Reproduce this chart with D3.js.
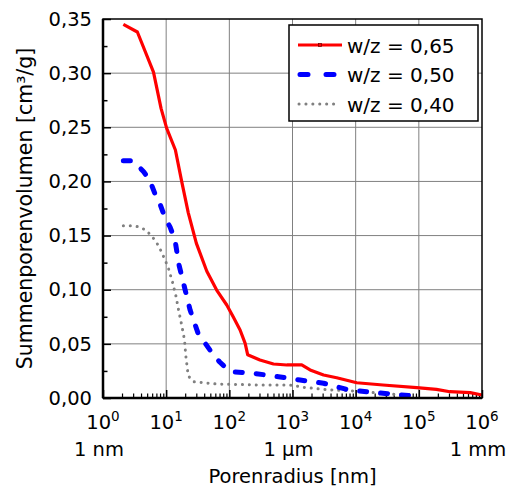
<!DOCTYPE html>
<html>
<head>
<meta charset="utf-8">
<script src="https://cdn.jsdelivr.net/npm/d3@7"></script>
<style>
  html, body { margin: 0; padding: 0; background: #fff; }
  svg text { font-family: "DejaVu Sans", sans-serif; fill: #000; }
</style>
</head>
<body>
<svg id="chart" width="511" height="488"></svg>
<script>
// Cumulative pore volume (cm³/g) vs. pore radius (nm) for three w/c ratios
const radius065 = [2.1, 3.5, 6.3, 8.3, 10.2, 14, 17.6, 22.4, 30, 44, 63, 91, 115, 148, 178, 195, 305, 500, 815, 1400, 1900, 3100, 5000, 10400, 27000, 92500, 190000, 310000, 650000, 1000000];
const volume065 = [0.345, 0.338, 0.301, 0.2675, 0.249, 0.229, 0.200, 0.171, 0.143, 0.117, 0.0997, 0.0859, 0.075, 0.0628, 0.0505, 0.040, 0.0351, 0.0314, 0.0305, 0.0305, 0.0259, 0.0212, 0.0187, 0.0141, 0.012, 0.0095, 0.008, 0.0058, 0.0049, 0.0028];

const radius050 = [2.1, 3.0, 4.4, 5.5, 6.6, 7.9, 9.5, 11.5, 13.8, 15.8, 20, 24, 32, 59, 71, 102, 240, 600, 1320, 3100, 7200, 17000, 37000, 81000, 100000];
const volume050 = [0.219, 0.219, 0.209, 0.201, 0.189, 0.180, 0.167, 0.158, 0.146, 0.124, 0.0997, 0.081, 0.0597, 0.038, 0.033, 0.0245, 0.0228, 0.0197, 0.0166, 0.0136, 0.008, 0.0053, 0.0037, 0.0018, 0.0012];

const radius040 = [2.1, 2.8, 3.8, 4.9, 6.2, 7.5, 8.5, 9.5, 10.7, 12.6, 14.3, 15.8, 17.6, 19.5, 20.4, 21.6, 22.4, 27.5, 34, 63, 305, 910, 1480, 3900, 8100, 27500, 50000, 81000];
const volume040 = [0.159, 0.159, 0.158, 0.1545, 0.148, 0.141, 0.1345, 0.128, 0.121, 0.107, 0.094, 0.0806, 0.0674, 0.0536, 0.0397, 0.0274, 0.0203, 0.015, 0.0145, 0.0129, 0.012, 0.012, 0.0099, 0.0074, 0.0067, 0.0043, 0.0028, 0.0014];

const seriesNames = ["w/z = 0,65", "w/z = 0,50", "w/z = 0,40"];
const yTicks = [0, 0.05, 0.10, 0.15, 0.20, 0.25, 0.30, 0.35];
const xExponents = [0, 1, 2, 3, 4, 5, 6];
const unitLabels = [["1 nm", 1], ["1 µm", 1000], ["1 mm", 1000000]];

const width = 511, height = 488;
const margin = { top: 19, right: 29, bottom: 90, left: 103 };
const plotW = width - margin.left - margin.right;
const plotH = height - margin.top - margin.bottom;

const svg = d3.select("#chart");
svg.append("rect").attr("width", width).attr("height", height).attr("fill", "#fff");
const g = svg.append("g").attr("transform", `translate(${margin.left},${margin.top})`);

const x = d3.scaleLog().domain([1, 1e6]).range([0, plotW]);
const y = d3.scaleLinear().domain([0, 0.35]).range([plotH, 0]);

const locale = d3.formatLocale({ decimal: ",", thousands: ".", grouping: [3], currency: ["", "€"] });
const fmt = locale.format(".2f");

// grid
const majorX = xExponents.map(e => Math.pow(10, e));
g.append("g").selectAll("line.gx").data(majorX.slice(1, -1)).join("line")
  .attr("x1", d => x(d)).attr("x2", d => x(d)).attr("y1", 0).attr("y2", plotH)
  .attr("stroke", "#808080").attr("stroke-width", 1);
g.append("g").selectAll("line.gy").data(yTicks.slice(1, -1)).join("line")
  .attr("x1", 0).attr("x2", plotW).attr("y1", d => y(d)).attr("y2", d => y(d))
  .attr("stroke", "#808080").attr("stroke-width", 1);

// minor ticks
const minorX = [];
for (let e = 0; e < 6; e++) for (let m = 2; m <= 9; m++) minorX.push(m * Math.pow(10, e));
const minorY = d3.range(0.025, 0.35, 0.05);

const yAxis = g.append("g").call(d3.axisLeft(y).tickValues(yTicks).tickSize(-8).tickPadding(11).tickFormat(fmt));
yAxis.select(".domain").remove();
yAxis.selectAll("line").attr("stroke", "#000").attr("stroke-width", 1.5);
yAxis.selectAll("text").attr("font-size", "19.5px").attr("font-family", "DejaVu Sans, sans-serif");

const yMinor = g.append("g").call(d3.axisLeft(y).tickValues(minorY).tickSize(-4.5).tickFormat(""));
yMinor.select(".domain").remove();
yMinor.selectAll("line").attr("stroke", "#000").attr("stroke-width", 1.5);

const xAxis = g.append("g").attr("transform", `translate(0,${plotH})`)
  .call(d3.axisBottom(x).tickValues(majorX).tickSize(-8).tickFormat(""));
xAxis.select(".domain").remove();
xAxis.selectAll("line").attr("stroke", "#000").attr("stroke-width", 1.5);

const xMinor = g.append("g").attr("transform", `translate(0,${plotH})`)
  .call(d3.axisBottom(x).tickValues(minorX).tickSize(-4.5).tickFormat(""));
xMinor.select(".domain").remove();
xMinor.selectAll("line").attr("stroke", "#000").attr("stroke-width", 1.2);

// x tick labels: powers of ten
const xl = g.append("g").selectAll("text.xl").data(xExponents).join("text")
  .attr("x", e => x(Math.pow(10, e)))
  .attr("y", plotH + 31)
  .attr("text-anchor", "middle")
  .attr("font-size", "19.5px");
xl.append("tspan").text("10");
xl.append("tspan").text(e => String(e)).attr("font-size", "13.5px").attr("dy", "-8");

// unit labels
g.append("g").selectAll("text.ul").data(unitLabels).join("text")
  .attr("x", d => x(d[1]) - 4)
  .attr("y", plotH + 58)
  .attr("text-anchor", "middle")
  .attr("font-size", "19.5px")
  .text(d => d[0]);

// axis titles
g.append("text")
  .attr("x", plotW / 2).attr("y", plotH + 85)
  .attr("text-anchor", "middle").attr("font-size", "19.5px")
  .text("Porenradius [nm]");
g.append("text")
  .attr("transform", `translate(${32 - margin.left},${plotH / 2}) rotate(-90)`)
  .attr("text-anchor", "middle").attr("font-size", "20.5px")
  .text("Summenporenvolumen [cm³/g]");

// curves
const line = d3.line().x(d => x(d[0])).y(d => y(d[1]));
const series = [
  { name: seriesNames[0], r: radius065, v: volume065, color: "#ff0000", w: 3.2, dash: null, cap: "butt" },
  { name: seriesNames[1], r: radius050, v: volume050, color: "#0000ff", w: 5, dash: "7 14", cap: "round" },
  { name: seriesNames[2], r: radius040, v: volume040, color: "#808080", w: 3, dash: "0.1 6.8", cap: "round" }
];
series.slice().reverse().forEach(s => {
  g.append("path")
    .datum(d3.zip(s.r, s.v))
    .attr("d", line)
    .attr("fill", "none")
    .attr("stroke", s.color)
    .attr("stroke-width", s.w)
    .attr("stroke-linecap", s.cap)
    .attr("stroke-linejoin", "round")
    .attr("stroke-dasharray", s.dash);
});

// frame
g.append("rect").attr("x", 0).attr("y", 0).attr("width", plotW).attr("height", plotH)
  .attr("fill", "none").attr("stroke", "#000").attr("stroke-width", 1.5);
g.append("line").attr("x1", 0).attr("x2", 0).attr("y1", 0).attr("y2", plotH)
  .attr("stroke", "#000").attr("stroke-width", 2.5);
g.append("line").attr("x1", 0).attr("x2", plotW).attr("y1", plotH).attr("y2", plotH)
  .attr("stroke", "#000").attr("stroke-width", 2.5);

// legend
const lg = svg.append("g").attr("transform", "translate(289,25)");
lg.append("rect").attr("width", 189).attr("height", 96)
  .attr("fill", "#fff").attr("stroke", "#000").attr("stroke-width", 1.5);
const rows = lg.selectAll("g.row").data(series).join("g")
  .attr("transform", (d, i) => `translate(0,${20 + i * 29.5})`);
rows.append("line")
  .attr("x1", (d, i) => [9, 11, 10][i]).attr("x2", (d, i) => [53, 45, 50][i])
  .attr("stroke", d => d.color).attr("stroke-width", d => d.w)
  .attr("stroke-linecap", d => d.cap)
  .attr("stroke-dasharray", (d, i) => i === 1 ? "8 18" : d.dash);
lg.append("rect").attr("x", 29.5).attr("y", 18.5).attr("width", 3).attr("height", 3)
  .attr("fill", "none").attr("stroke", "#800000").attr("stroke-width", 0.8);
rows.append("text")
  .attr("x", 58).attr("y", 7.5)
  .attr("font-size", "20px")
  .text(d => d.name);
</script>
</body>
</html>
